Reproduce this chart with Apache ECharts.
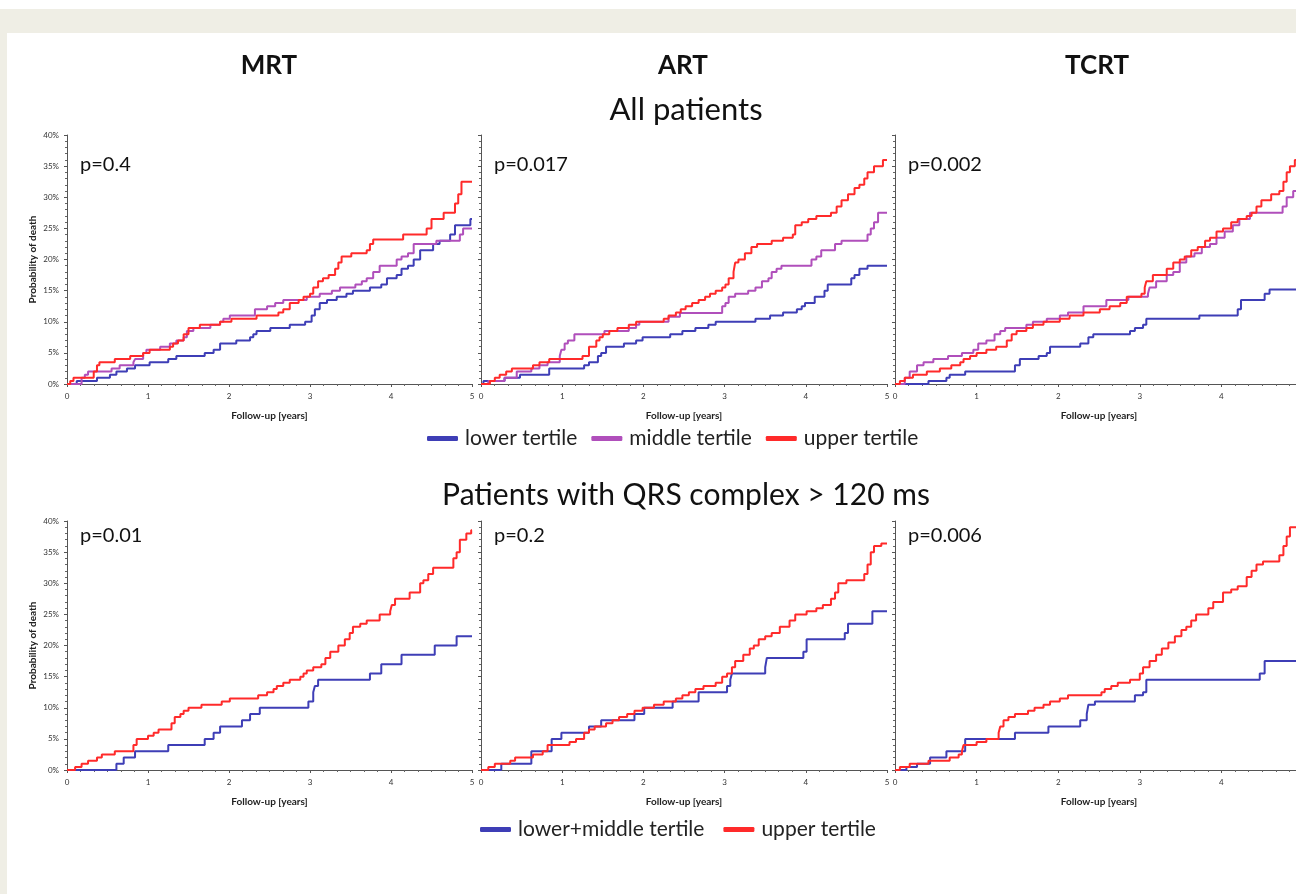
<!DOCTYPE html>
<html>
<head>
<meta charset="utf-8">
<script src="https://cdn.jsdelivr.net/npm/echarts/dist/echarts.min.js"></script>
<style>
html,body{margin:0;padding:0;background:#fff;width:1296px;height:894px;overflow:hidden;}
#beige{position:absolute;left:0;top:9px;width:1296px;height:885px;background:#efeee5;}
#paper{position:absolute;left:7px;top:33px;width:1289px;height:861px;background:#fff;}
#chart{position:absolute;left:0;top:0;width:1320px;height:894px;}
</style>
</head>
<body>
<div id="beige"></div>
<div id="paper"></div>
<div id="chart"></div>
<script>
// ---- data: [follow-up years, cumulative probability of death %] ----
const mrtAllLower = [[0,0],[0.12,0.5],[0.37,1.0],[0.53,1.5],[0.61,2.0],[0.74,2.5],[0.84,3.0],[1.02,3.5],[1.25,4.0],[1.35,4.5],[1.70,5.0],[1.81,5.5],[1.89,6.5],[2.09,7.0],[2.26,7.5],[2.30,8.0],[2.34,8.5],[2.51,9.0],[2.75,9.5],[2.94,10.0],[3.02,11.0],[3.06,12.0],[3.12,13.0],[3.21,13.5],[3.33,14.0],[3.45,14.5],[3.53,15.0],[3.74,15.5],[3.88,16.0],[3.95,17.0],[4.07,17.5],[4.13,18.5],[4.21,19.0],[4.28,20.0],[4.36,21.5],[4.52,22.5],[4.60,23.0],[4.73,24.0],[4.79,25.5],[4.98,26.5],[5.0,26.5]];
const mrtAllMiddle = [[0,0],[0.18,1.0],[0.22,1.5],[0.26,2.0],[0.55,2.5],[0.65,3.0],[0.82,3.5],[0.84,4.0],[0.94,5.0],[0.98,5.5],[1.15,6.0],[1.27,6.5],[1.35,7.0],[1.44,7.5],[1.48,8.5],[1.56,9.0],[1.77,9.5],[1.89,10.0],[1.93,10.5],[2.01,11.0],[2.32,12.0],[2.47,12.5],[2.57,13.0],[2.67,13.5],[2.96,14.0],[3.12,14.5],[3.27,15.0],[3.37,15.5],[3.56,16.0],[3.64,16.5],[3.70,17.0],[3.78,18.0],[3.86,19.0],[4.07,20.0],[4.13,20.5],[4.21,21.0],[4.28,22.5],[4.56,23.0],[4.85,24.0],[4.89,25.0],[5.0,25.0]];
const mrtAllUpper = [[0,0],[0.04,0.5],[0.08,1.0],[0.33,2.0],[0.37,3.0],[0.40,3.5],[0.59,4.0],[0.78,4.5],[0.94,5.0],[1.02,5.5],[1.27,6.0],[1.31,6.5],[1.37,7.0],[1.44,8.0],[1.50,9.0],[1.64,9.5],[1.89,10.0],[2.03,10.5],[2.34,11.0],[2.61,11.5],[2.67,12.0],[2.75,13.0],[2.86,13.5],[2.92,14.0],[3.00,14.5],[3.04,15.5],[3.10,16.5],[3.16,17.0],[3.23,17.5],[3.31,18.5],[3.35,19.5],[3.39,20.5],[3.51,21.0],[3.70,21.5],[3.74,22.5],[3.78,23.2],[4.15,24.0],[4.44,25.0],[4.50,26.5],[4.65,27.5],[4.79,29.0],[4.83,30.5],[4.87,32.5],[5.0,32.5]];

const artAllLower = [[0,0],[0.03,0.5],[0.29,1.0],[0.48,1.5],[0.84,2.5],[1.27,3.0],[1.33,3.5],[1.44,4.5],[1.48,5.0],[1.54,6.0],[1.76,6.5],[1.91,7.0],[1.99,7.5],[2.33,8.0],[2.48,8.5],[2.64,9.0],[2.80,9.5],[2.89,10.0],[3.38,10.5],[3.56,11.0],[3.72,11.5],[3.89,12.0],[3.95,12.5],[3.99,13.0],[4.11,14.0],[4.23,15.0],[4.27,16.0],[4.56,17.0],[4.60,17.5],[4.66,18.5],[4.76,19.0],[5.0,19.0]];
const artAllMiddle = [[0,0],[0.09,0.5],[0.29,1.0],[0.44,2.0],[0.62,2.5],[0.72,3.0],[0.82,3.5],[0.97,4.5],[0.99,5.5],[1.03,6.5],[1.07,7.0],[1.15,8.0],[1.52,8.5],[1.82,9.0],[1.91,9.5],[1.95,10.0],[2.31,10.8],[2.45,11.4],[2.97,12.5],[3.01,13.0],[3.05,14.0],[3.13,14.5],[3.29,15.0],[3.38,15.5],[3.46,16.5],[3.54,17.0],[3.58,18.0],[3.64,18.5],[3.70,19.0],[4.07,20.0],[4.13,20.5],[4.19,21.5],[4.36,22.5],[4.44,23.0],[4.76,24.0],[4.80,25.0],[4.84,26.0],[4.89,27.5],[5.0,27.5]];
const artAllUpper = [[0,0],[0.11,0.5],[0.17,1.0],[0.23,1.5],[0.31,2.0],[0.38,2.5],[0.64,3.0],[0.72,3.5],[0.84,4.0],[1.25,4.5],[1.33,6.0],[1.42,7.0],[1.46,7.5],[1.50,8.0],[1.58,8.5],[1.68,9.0],[1.82,9.5],[1.91,10.0],[2.25,10.5],[2.31,11.0],[2.40,11.5],[2.46,12.0],[2.52,12.5],[2.60,13.0],[2.68,13.5],[2.76,14.0],[2.82,14.5],[2.89,15.0],[2.97,15.5],[3.01,16.0],[3.05,17.0],[3.11,18.0],[3.13,19.5],[3.17,20.0],[3.25,21.0],[3.33,22.0],[3.40,22.5],[3.58,23.0],[3.72,23.5],[3.84,24.0],[3.87,25.5],[3.95,26.0],[4.03,26.5],[4.13,27.0],[4.31,27.5],[4.38,28.5],[4.44,29.5],[4.52,30.5],[4.60,31.5],[4.66,32.0],[4.72,33.0],[4.76,34.0],[4.84,35.0],[4.95,36.0],[5.0,36.0]];

const tcrtAllLower = [[0,0],[0.41,0.5],[0.63,1.0],[0.67,1.5],[0.86,2.0],[1.47,3.0],[1.53,4.0],[1.76,4.5],[1.86,5.0],[1.90,6.0],[2.27,6.5],[2.37,7.5],[2.43,8.0],[2.88,8.5],[2.94,9.0],[3.04,9.5],[3.08,10.5],[3.73,11.0],[4.20,12.0],[4.24,13.5],[4.53,14.5],[4.59,15.2],[5.0,15.2]];
const tcrtAllMiddle = [[0,0],[0.12,1.0],[0.18,2.0],[0.27,3.0],[0.35,3.5],[0.47,4.0],[0.65,4.5],[0.82,5.0],[0.96,5.5],[1.02,6.5],[1.12,7.0],[1.22,8.0],[1.29,8.5],[1.35,9.0],[1.61,9.5],[1.69,10.0],[1.86,10.5],[2.02,11.0],[2.12,11.5],[2.31,12.5],[2.59,13.5],[2.86,14.0],[3.10,14.5],[3.12,15.5],[3.20,16.5],[3.33,17.5],[3.41,18.0],[3.49,19.5],[3.57,20.5],[3.67,21.0],[3.76,22.0],[3.86,22.5],[3.94,23.5],[4.04,24.5],[4.14,25.5],[4.22,26.5],[4.35,27.5],[4.75,28.5],[4.80,30.0],[4.88,31.0],[5.0,31.0]];
const tcrtAllUpper = [[0,0],[0.06,0.5],[0.12,1.0],[0.22,1.5],[0.39,2.0],[0.55,2.5],[0.69,3.0],[0.80,3.5],[0.84,4.0],[0.92,4.5],[1.00,5.0],[1.12,5.5],[1.24,6.0],[1.37,7.0],[1.43,8.0],[1.49,8.5],[1.61,9.0],[1.69,9.5],[1.82,10.0],[2.02,10.5],[2.14,11.0],[2.31,11.5],[2.51,12.0],[2.63,12.5],[2.76,13.0],[2.84,14.0],[3.02,14.5],[3.06,15.5],[3.08,16.5],[3.16,17.5],[3.33,18.5],[3.41,19.5],[3.49,20.0],[3.55,20.5],[3.63,21.5],[3.71,22.0],[3.80,23.0],[3.86,23.5],[3.94,24.5],[4.02,25.0],[4.12,26.0],[4.20,26.5],[4.31,27.0],[4.37,27.5],[4.43,28.5],[4.49,29.5],[4.61,30.5],[4.71,31.0],[4.76,32.5],[4.80,34.0],[4.84,35.0],[4.90,36.0],[5.0,36.0]];

const mrtQrsLowMid = [[0,0],[0.61,1.0],[0.70,2.0],[0.84,3.0],[1.25,4.0],[1.70,5.0],[1.81,6.0],[1.89,7.0],[2.16,8.0],[2.26,9.0],[2.38,10.0],[2.98,11.0],[3.04,12.5],[3.06,13.5],[3.10,14.5],[3.74,15.5],[3.88,17.0],[4.13,18.5],[4.54,20.0],[4.81,21.5],[5.0,21.5]];
const mrtQrsUpper = [[0,0],[0.10,0.5],[0.18,1.0],[0.26,1.5],[0.37,2.0],[0.43,2.5],[0.59,3.0],[0.82,4.0],[0.86,5.0],[1.00,5.5],[1.07,6.0],[1.13,6.5],[1.29,7.5],[1.33,8.5],[1.40,9.0],[1.44,9.5],[1.50,10.0],[1.66,10.5],[1.91,11.0],[2.01,11.5],[2.36,12.0],[2.47,12.5],[2.55,13.0],[2.59,13.5],[2.67,14.0],[2.75,14.5],[2.88,15.0],[2.92,15.5],[2.96,16.0],[3.04,16.5],[3.14,17.0],[3.19,18.0],[3.25,19.0],[3.35,20.0],[3.43,21.0],[3.49,22.0],[3.53,23.0],[3.62,23.5],[3.70,24.0],[3.86,25.0],[3.99,25.5],[4.01,26.5],[4.05,27.5],[4.23,28.5],[4.36,30.0],[4.40,30.5],[4.46,31.5],[4.52,32.5],[4.77,34.0],[4.81,35.0],[4.85,37.0],[4.93,38.0],[4.99,38.5],[5.0,38.5]];

const artQrsLowMid = [[0,0],[0.25,1.0],[0.62,3.0],[0.87,5.0],[0.99,6.0],[1.33,7.0],[1.48,8.0],[1.89,9.0],[2.01,10.0],[2.36,11.0],[2.68,12.5],[3.03,13.5],[3.07,14.5],[3.09,15.5],[3.50,16.5],[3.52,18.0],[3.97,19.0],[4.01,21.0],[4.48,22.0],[4.52,23.5],[4.82,25.5],[5.0,25.5]];
const artQrsUpper = [[0,0],[0.09,0.5],[0.17,1.0],[0.36,1.5],[0.42,2.0],[0.64,2.5],[0.76,3.0],[0.82,4.0],[1.09,4.5],[1.17,5.0],[1.27,6.0],[1.33,6.5],[1.40,7.0],[1.54,7.5],[1.62,8.0],[1.70,8.5],[1.80,9.0],[1.89,9.5],[1.99,10.0],[2.13,10.5],[2.25,11.0],[2.40,11.5],[2.48,12.0],[2.56,12.5],[2.64,13.0],[2.74,13.5],[2.89,14.0],[2.97,15.0],[3.03,15.5],[3.09,16.5],[3.13,17.5],[3.23,18.5],[3.31,19.5],[3.36,20.0],[3.42,21.0],[3.50,21.5],[3.58,22.0],[3.68,23.0],[3.80,24.0],[3.87,25.0],[4.01,25.5],[4.13,26.0],[4.21,26.5],[4.31,27.5],[4.36,28.5],[4.40,30.0],[4.50,30.5],[4.72,31.5],[4.76,33.0],[4.80,35.0],[4.84,36.0],[4.93,36.4],[5.0,36.4]];

const tcrtQrsLowMid = [[0,0],[0.14,0.5],[0.27,1.0],[0.43,2.0],[0.63,3.0],[0.86,5.0],[1.47,6.0],[1.88,7.0],[2.27,8.0],[2.35,9.0],[2.37,10.5],[2.45,11.0],[2.94,12.0],[3.04,12.5],[3.08,14.5],[4.47,15.5],[4.53,17.5],[5.0,17.5]];
const tcrtQrsUpper = [[0,0],[0.06,0.5],[0.18,1.0],[0.41,1.5],[0.67,2.0],[0.78,2.5],[0.82,3.0],[0.84,4.0],[1.00,4.5],[1.12,5.0],[1.27,6.0],[1.29,7.0],[1.33,8.0],[1.39,8.5],[1.47,9.0],[1.63,9.5],[1.71,10.0],[1.82,10.5],[1.90,11.0],[2.02,11.5],[2.12,12.0],[2.53,12.5],[2.57,13.0],[2.65,13.5],[2.73,14.0],[2.88,14.5],[3.00,15.5],[3.04,16.5],[3.12,17.5],[3.20,18.5],[3.27,19.5],[3.35,20.5],[3.43,21.5],[3.51,22.5],[3.57,23.0],[3.63,24.0],[3.69,25.0],[3.84,26.0],[3.90,27.0],[4.02,28.5],[4.12,29.0],[4.20,29.5],[4.31,31.0],[4.37,32.0],[4.43,33.0],[4.51,33.5],[4.71,34.5],[4.76,36.0],[4.80,37.5],[4.84,39.0],[4.95,39.5],[5.0,39.5]];

const columnTitles = ['MRT', 'ART', 'TCRT'];
const rowTitles = ['All patients', 'Patients with QRS complex > 120 ms'];
const pValues = ['p=0.4', 'p=0.017', 'p=0.002', 'p=0.01', 'p=0.2', 'p=0.006'];
const legendTop = ['lower tertile', 'middle tertile', 'upper tertile'];
const legendBottom = ['lower+middle tertile', 'upper tertile'];
const xTicks = [0, 1, 2, 3, 4, 5];
const yMax = 40;
const yStep = 5;

// ---- layout / style ----
const FONT = 'Lato, "Open Sans", sans-serif';
const COLORS = {lower: '#3e3eb6', middle: '#b04fbb', upper: '#ff2a2a', lowmid: '#3e3eb6'};
const colX = [67, 481, 895];
const colW = [405, 406, 408];
const rowY = [135, 521];
const plotH = 249;

const panels = [
  [['lower tertile', mrtAllLower, COLORS.lower], ['middle tertile', mrtAllMiddle, COLORS.middle], ['upper tertile', mrtAllUpper, COLORS.upper]],
  [['lower tertile', artAllLower, COLORS.lower], ['middle tertile', artAllMiddle, COLORS.middle], ['upper tertile', artAllUpper, COLORS.upper]],
  [['lower tertile', tcrtAllLower, COLORS.lower], ['middle tertile', tcrtAllMiddle, COLORS.middle], ['upper tertile', tcrtAllUpper, COLORS.upper]],
  [['lower+middle tertile', mrtQrsLowMid, COLORS.lowmid], ['upper tertile', mrtQrsUpper, COLORS.upper]],
  [['lower+middle tertile', artQrsLowMid, COLORS.lowmid], ['upper tertile', artQrsUpper, COLORS.upper]],
  [['lower+middle tertile', tcrtQrsLowMid, COLORS.lowmid], ['upper tertile', tcrtQrsUpper, COLORS.upper]]
];

const grid = [], xAxis = [], yAxis = [], series = [], graphic = [];
panels.forEach((p, i) => {
  const c = i % 3, r = Math.floor(i / 3);
  grid.push({left: colX[c], top: rowY[r], width: colW[c], height: plotH});
  xAxis.push({
    gridIndex: i, type: 'value', min: xTicks[0], max: xTicks[xTicks.length - 1], interval: 1,
    axisLine: {show: true, lineStyle: {color: '#555', width: 1}},
    axisTick: {show: true, length: 3, lineStyle: {color: '#555'}},
    minorTick: {show: true, splitNumber: 6, length: 2, lineStyle: {color: '#666'}},
    splitLine: {show: false},
    axisLabel: {fontSize: 8, color: '#333', margin: 8, fontFamily: FONT},
    name: 'Follow-up [years]', nameLocation: 'middle', nameGap: 27,
    nameTextStyle: {fontSize: 10, fontWeight: 'bold', color: '#222', fontFamily: FONT}
  });
  yAxis.push({
    gridIndex: i, type: 'value', min: 0, max: yMax, interval: yStep,
    axisLine: {show: true, lineStyle: {color: '#555', width: 1}},
    axisTick: {show: true, length: 3, lineStyle: {color: '#555'}},
    minorTick: {show: true, splitNumber: 5, length: 2, lineStyle: {color: '#666'}},
    splitLine: {show: false},
    axisLabel: {show: c === 0, formatter: '{value}%', fontSize: 8, color: '#333', margin: 8, fontFamily: FONT},
    name: c === 0 ? 'Probability of death' : '', nameLocation: 'middle', nameGap: 29,
    nameTextStyle: {fontSize: 10, fontWeight: 'bold', color: '#222', fontFamily: FONT}
  });
  p.forEach(([name, data, color]) => {
    series.push({
      name, type: 'line', step: 'end', xAxisIndex: i, yAxisIndex: i, data,
      showSymbol: false, symbol: 'none', color,
      lineStyle: {width: 2, color}, itemStyle: {color}, animation: false
    });
  });
  graphic.push({
    type: 'text', left: colX[c] + 13, top: rowY[r] + (r === 0 ? 20 : 5),
    style: {text: pValues[i], fontSize: 20, fill: '#111', fontFamily: FONT}
  });
});

columnTitles.forEach((t, c) => {
  graphic.push({type: 'text', x: colX[c] + 202, y: 66,
    style: {text: t, fontSize: 26, fontWeight: 'bold', fill: '#111', fontFamily: FONT, textAlign: 'center', textVerticalAlign: 'middle'}});
});
graphic.push({type: 'text', x: 686, y: 110,
  style: {text: rowTitles[0], fontSize: 31, fill: '#111', fontFamily: FONT, textAlign: 'center', textVerticalAlign: 'middle'}});
graphic.push({type: 'text', x: 686, y: 495,
  style: {text: rowTitles[1], fontSize: 30, fill: '#111', fontFamily: FONT, textAlign: 'center', textVerticalAlign: 'middle'}});

const legendCommon = {
  icon: 'roundRect', itemWidth: 31, itemHeight: 5, selectedMode: false, padding: 0,
  textStyle: {fontSize: 21, color: '#222', fontFamily: FONT, padding: [0, 0, 0, 2]}
};

const chart = echarts.init(document.getElementById('chart'), null, {renderer: 'canvas'});
chart.setOption({
  animation: false,
  textStyle: {fontFamily: FONT},
  grid, xAxis, yAxis, series, graphic,
  legend: [
    Object.assign({left: 427, top: 428, itemGap: 14, data: legendTop}, legendCommon),
    Object.assign({left: 480, top: 819, itemGap: 19, data: legendBottom}, legendCommon)
  ]
});
</script>
</body>
</html>
